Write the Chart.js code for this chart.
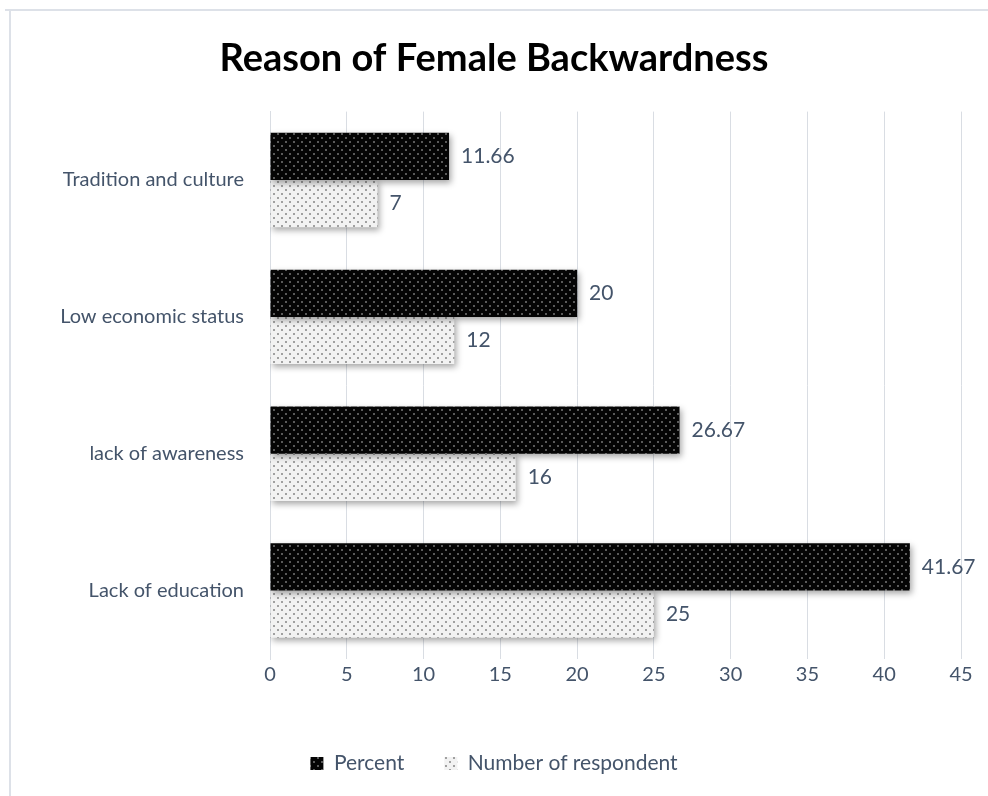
<!DOCTYPE html>
<html>
<head>
<meta charset="utf-8">
<script src="https://cdn.jsdelivr.net/npm/chart.js@4"></script>
<style>
  html, body { margin: 0; padding: 0; background: #fff; }
  #wrap { position: relative; width: 988px; height: 796px; }
</style>
</head>
<body>
<div id="wrap"><canvas id="chart" width="988" height="796"></canvas></div>
<script>
var categories = ['Tradition and culture', 'Low economic status', 'lack of awareness', 'Lack of education'];
var percentValues = [11.66, 20, 26.67, 41.67];
var respondentValues = [7, 12, 16, 25];
var seriesNames = ['Percent', 'Number of respondent'];
var xTicks = [0, 5, 10, 15, 20, 25, 30, 35, 40, 45];

var textColor = '#44546a';
var fontFamily = 'Lato, "Open Sans", sans-serif';

function makePattern(bg, dot) {
    var c = document.createElement('canvas');
    c.width = 8; c.height = 8;
    var g = c.getContext('2d');
    g.fillStyle = bg;
    g.fillRect(0, 0, 8, 8);
    g.fillStyle = dot;
    g.fillRect(1, 1, 2, 2);
    g.fillRect(5, 5, 2, 2);
    return g.createPattern(c, 'repeat');
}

var ctx = document.getElementById('chart').getContext('2d');
var darkPattern = makePattern('#050505', '#5a5a5a');
var lightPattern = makePattern('#f2f2f2', '#a0a0a0');

// frame lines at left and top, like the cropped chart border
var framePlugin = {
    id: 'frame',
    beforeDraw: function (chart) {
        var c = chart.ctx;
        c.save();
        c.fillStyle = '#fff';
        c.fillRect(0, 0, chart.width, chart.height);
        c.strokeStyle = '#dde1e8';
        c.lineWidth = 2;
        c.beginPath();
        c.moveTo(5, 10);
        c.lineTo(chart.width, 10);
        c.moveTo(10, 10);
        c.lineTo(10, chart.height);
        c.stroke();
        c.restore();
    }
};

var shadowPlugin = {
    id: 'barShadow',
    beforeDatasetsDraw: function (chart) {
        var c = chart.ctx;
        c.save();
        c.shadowColor = 'rgba(0,0,0,0.35)';
        c.shadowBlur = 6;
        c.shadowOffsetX = 2;
        c.shadowOffsetY = 3;
    },
    afterDatasetsDraw: function (chart) {
        chart.ctx.restore();
    }
};

var valueLabelPlugin = {
    id: 'valueLabels',
    afterDatasetsDraw: function (chart) {
        var c = chart.ctx;
        c.save();
        c.fillStyle = textColor;
        c.font = '21px ' + fontFamily;
        c.textAlign = 'left';
        c.textBaseline = 'middle';
        chart.data.datasets.forEach(function (ds, di) {
            var meta = chart.getDatasetMeta(di);
            meta.data.forEach(function (bar, i) {
                c.fillText(String(ds.data[i]), bar.x + 12, bar.y);
            });
        });
        c.restore();
    }
};

new Chart(ctx, {
    type: 'bar',
    data: {
        labels: categories,
        datasets: [
            {
                label: seriesNames[0],
                data: percentValues,
                backgroundColor: darkPattern,
                borderWidth: 0
            },
            {
                label: seriesNames[1],
                data: respondentValues,
                backgroundColor: lightPattern,
                borderWidth: 0
            }
        ]
    },
    options: {
        indexAxis: 'y',
        responsive: false,
        animation: false,
        layout: { padding: { left: 27, right: 27, top: 10, bottom: 12 } },
        categoryPercentage: 0.69,
        barPercentage: 1.0,
        plugins: {
            title: {
                display: true,
                text: 'Reason of Female Backwardness',
                color: '#000',
                font: { family: fontFamily, size: 38, weight: 'bold', lineHeight: 1.2 },
                padding: { top: 26, bottom: 30 }
            },
            legend: {
                position: 'bottom',
                labels: {
                    color: textColor,
                    font: { family: fontFamily, size: 21 },
                    boxWidth: 13,
                    boxHeight: 13,
                    padding: 40
                }
            },
            tooltip: { enabled: false }
        },
        scales: {
            x: {
                min: 0,
                max: 45,
                afterBuildTicks: function (scale) {
                    scale.ticks = xTicks.map(function (v) { return { value: v }; });
                },
                afterFit: function (scale) { scale.height += 22; },
                grid: { color: '#d9dde3', drawTicks: false },
                border: { display: false },
                ticks: {
                    color: textColor,
                    font: { family: fontFamily, size: 20 },
                    padding: 4
                }
            },
            y: {
                grid: { display: false },
                border: { display: true, color: '#d9dde3' },
                afterFit: function (scale) { scale.width = 243; },
                ticks: {
                    color: textColor,
                    font: { family: fontFamily, size: 20 },
                    padding: 18
                }
            }
        }
    },
    plugins: [framePlugin, shadowPlugin, valueLabelPlugin]
});
</script>
</body>
</html>
